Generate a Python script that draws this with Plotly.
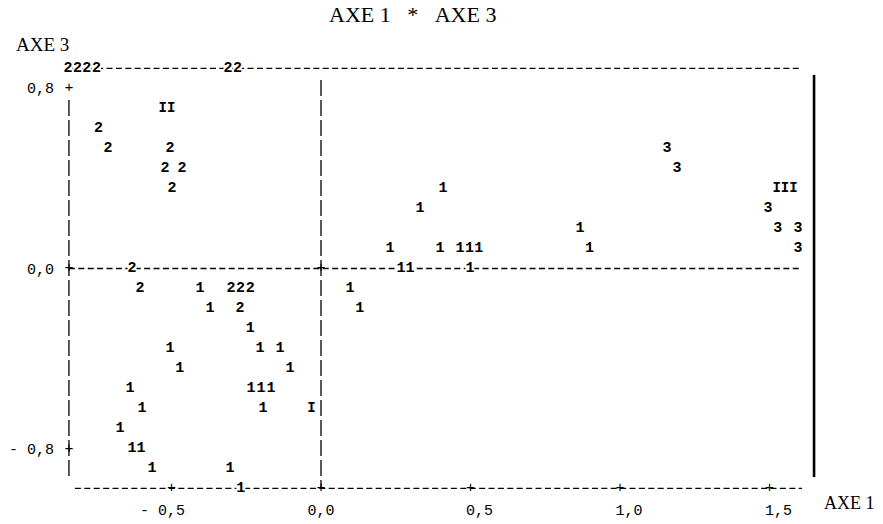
import plotly.graph_objects as go

# ---- data ----
# class 1 individuals
c1_x = [0.408, 0.331, 0.866, 0.231, 0.398, 0.465, 0.497, 0.528, 0.898,
        0.268, 0.298, 0.498, -0.405, 0.097, -0.371, 0.130, -0.237,
        -0.505, -0.204, -0.137, -0.472, -0.104, -0.639, -0.234, -0.201, -0.167,
        -0.599, -0.194, -0.672, -0.632, -0.602, -0.565, -0.304, -0.268]
c1_y = [0.355, 0.266, 0.177, 0.089, 0.089, 0.089, 0.089, 0.089, 0.089,
        0.0, 0.0, 0.0, -0.089, -0.089, -0.177, -0.177, -0.266,
        -0.355, -0.355, -0.355, -0.443, -0.443, -0.532, -0.532, -0.532, -0.532,
        -0.621, -0.621, -0.709, -0.798, -0.798, -0.887, -0.887, -0.975]
# class 2 individuals
c2_x = [-0.846, -0.814, -0.783, -0.751, -0.311, -0.279, -0.744, -0.712, -0.505,
        -0.522, -0.465, -0.498, -0.632, -0.605, -0.301, -0.269, -0.237, -0.271]
c2_y = [0.887, 0.887, 0.887, 0.887, 0.887, 0.887, 0.621, 0.532, 0.532,
        0.443, 0.443, 0.355, 0.0, -0.089, -0.089, -0.089, -0.089, -0.177]
# class 3 individuals
c3_x = [1.157, 1.191, 1.495, 1.528, 1.595, 1.595]
c3_y = [0.532, 0.443, 0.266, 0.177, 0.177, 0.089]
# class centres
centre_labels = ["II", "III", "I"]
centre_x = [-0.515, 1.552, -0.032]
centre_y = [0.709, 0.355, -0.621]

x_ticks = [-0.5, 0.0, 0.5, 1.0, 1.5]
x_tick_text = ["- 0,5\u00a0\u00a0", "0,0", "\u00a0\u00a00,5", "\u00a0\u00a01,0", "\u00a0\u00a01,5"]
y_ticks = [-0.8, 0.0, 0.8]
y_tick_text = ["- 0,8", "0,0", "0,8"]

# ---- frame positions ----
X_LEFT, X_RIGHT, X_END = -0.843, 1.649, 1.609
Y_TOP, Y_BOTTOM = 0.887, -0.975

MONO = "Liberation Mono"
SERIF = "Liberation Serif"
DASH_H = "6px,3.4px"
DASH_V = "16px,4px"

fig = go.Figure()

def hline(x0, x1, y, dash):
    fig.add_trace(go.Scatter(x=[x0, x1], y=[y, y], mode="lines",
                             line=dict(color="black", width=1.3, dash=dash),
                             hoverinfo="skip", showlegend=False, cliponaxis=False))

def vline(x, y0, y1, dash, width=1.3):
    fig.add_trace(go.Scatter(x=[x, x], y=[y0, y1], mode="lines",
                             line=dict(color="black", width=width, dash=dash),
                             hoverinfo="skip", showlegend=False, cliponaxis=False))

hline(X_LEFT, X_END, Y_TOP, DASH_H)
hline(X_LEFT, X_END, 0.0, DASH_H)
hline(-0.823, X_END, Y_BOTTOM, DASH_H)
vline(X_LEFT, 0.747, -0.922, DASH_V)
vline(0.0, 0.836, Y_BOTTOM, DASH_V)
vline(X_RIGHT, 0.858, -0.924, "solid", width=2.6)

# white cells behind the printed characters
all_x = c1_x + c2_x + c3_x
all_y = c1_y + c2_y + c3_y
fig.add_trace(go.Scatter(x=all_x, y=all_y, mode="markers",
                         marker=dict(symbol="square", size=9, color="white"),
                         hoverinfo="skip", showlegend=False, cliponaxis=False))

# '+' marks on the frame
plus_x = x_ticks + [X_LEFT] * len(y_ticks) + [0.0]
plus_y = [Y_BOTTOM] * len(x_ticks) + y_ticks + [0.0]
fig.add_trace(go.Scatter(x=plus_x, y=plus_y, mode="text", text=["+"] * len(plus_x),
                         textfont=dict(family=MONO, size=15, color="black"),
                         hoverinfo="skip", showlegend=False, cliponaxis=False))

for name, xs, ys, ch in [("1", c1_x, c1_y, "1"), ("2", c2_x, c2_y, "2"), ("3", c3_x, c3_y, "3")]:
    fig.add_trace(go.Scatter(x=xs, y=ys, mode="text", text=[ch] * len(xs), name=name,
                             textfont=dict(family=MONO, size=15, color="black", weight="bold"),
                             showlegend=False, cliponaxis=False))

fig.add_trace(go.Scatter(x=centre_x, y=centre_y, mode="text", text=centre_labels,
                         textfont=dict(family=MONO, size=14, color="black", weight="bold"),
                         showlegend=False, cliponaxis=False))

W, H = 883, 524
PL, PR, PT, PB = 60, 823, 60, 492          # plot area in page pixels
L, R, T, B = PL, W - PR, PT, H - PB
PW, PH = W - L - R, H - T - B

def px_x(p):
    return (p - L) / PW

def px_y(p):
    return (H - B - p) / PH

fig.update_layout(
    width=W, height=H, margin=dict(l=L, r=R, t=T, b=B, autoexpand=False),
    paper_bgcolor="white", plot_bgcolor="white", showlegend=False,
    xaxis=dict(range=[(PL - 321) / 299, (PR - 321) / 299], showgrid=False, zeroline=False,
               showline=False, tickvals=x_ticks, ticktext=x_tick_text, automargin=False,
               ticks="outside", ticklen=4, tickcolor="rgba(0,0,0,0)",
               tickfont=dict(family=MONO, size=15, color="black")),
    yaxis=dict(range=[(268.5 - PB) / 225.6, (268.5 - PT) / 225.6], showgrid=False,
               zeroline=False, showline=False, tickvals=y_ticks, ticktext=y_tick_text,
               automargin=False, ticks="outside", ticklen=2, tickcolor="rgba(0,0,0,0)",
               tickfont=dict(family=MONO, size=15, color="black")),
    annotations=[
        dict(text="AXE 1\u00a0\u00a0\u00a0*\u00a0\u00a0\u00a0AXE 3", xref="paper", yref="paper",
             x=px_x(412), y=px_y(14), xanchor="center", yanchor="middle", showarrow=False,
             font=dict(family=SERIF, size=22, color="black")),
        dict(text="AXE 3", xref="paper", yref="paper", x=px_x(14), y=px_y(44),
             xanchor="left", yanchor="middle", showarrow=False,
             font=dict(family=SERIF, size=19, color="black")),
        dict(text="AXE 1", xref="paper", yref="paper", x=px_x(822), y=px_y(503),
             xanchor="left", yanchor="middle", showarrow=False,
             font=dict(family=SERIF, size=18, color="black")),
    ],
)

# remove the default 8px page margin so the figure sits at the window's corner
fig.write_html("out.html", config={"displayModeBar": False},
               post_script="document.body.style.margin='0px';")
